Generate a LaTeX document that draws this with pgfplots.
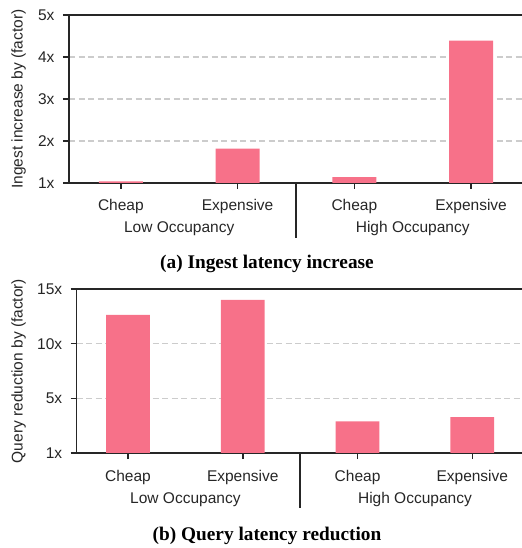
\documentclass[border=0pt]{standalone}
\usepackage{fontspec}
\setmainfont{Liberation Sans}
\newfontfamily\capfont{Liberation Serif}
\usepackage{pgfplots}
\pgfplotsset{compat=1.18}
\definecolor{barc}{HTML}{F77189}
\definecolor{axc}{HTML}{262626}
\definecolor{gridc}{HTML}{CCCCCC}
\newcommand{\lblfont}{\fontsize{15.5bp}{18bp}\selectfont}
\newcommand{\capsize}{\capfont\bfseries\fontsize{19.3bp}{22bp}\selectfont}
\pgfplotsset{mystyle/.style={
  scale only axis,
  axis lines=left,
  axis line style={-, axc, line width=1.5bp},
  every tick/.style={axc, line width=1.5bp},
  major tick length=6bp,
  tick align=outside,
  ymajorgrids,
  major grid style={gridc, line width=1.6bp, dash pattern=on 6bp off 3.5bp},
  xtick={0,1,2,3},
  xticklabels={Cheap,Expensive,Cheap,Expensive},
  font=\lblfont,
  tick label style={font=\lblfont, text=axc},
  xticklabel style={anchor=base, yshift=-22bp},
  yticklabel style={xshift=-5bp},
  /pgf/number format/assume math mode=true,
  ybar,
}}
\begin{document}
\begin{tikzpicture}
\useasboundingbox (0,0) rectangle (522bp,548bp);
% top axis
\begin{axis}[mystyle, name=top,
  at={(69bp,365bp)}, anchor=south west,
  width=453bp, height=168bp,
  xmin=-0.444, xmax=3.436, ymin=1, ymax=5,
  ytick={1,2,3,4,5}, yticklabels={1x,2x,3x,4x,5x},
  bar width=44bp,
  every axis y label/.style={at={([xshift=-50.5bp]rel axis cs:0,0.5)}, rotate=90, anchor=center, font=\lblfont, text=axc},
  ylabel={Ingest increase by (factor)},
]
\addplot[fill=barc, draw=none] coordinates {(0,1.04) (1,1.82) (2,1.14) (3,4.39)};
\coordinate (sepA) at (axis cs:1.5,1);
\coordinate (lowA) at (axis cs:0.5,1);
\coordinate (highA) at (axis cs:2.5,1);
\end{axis}
\draw[axc, line width=1.5bp] (top.north west) -- (top.north east);
\draw[axc, line width=1.5bp] (sepA) -- ++(0,-55bp);
\node[anchor=base, font=\lblfont, text=axc, inner sep=0pt] at ([yshift=-50bp]lowA) {Low Occupancy};
\node[anchor=base, font=\lblfont, text=axc, inner sep=0pt] at ([yshift=-50bp]highA) {High Occupancy};
\node[anchor=base, font=\capsize, inner sep=0pt] at (267bp,279.3bp) {(a) Ingest latency increase};
% bottom axis
\begin{axis}[mystyle, name=bot,
  at={(76.7bp,95bp)}, anchor=south west,
  width=445.3bp, height=164bp,
  xmin=-0.447, xmax=3.433, ymin=0, ymax=15,
  ytick={0,5,10,15}, yticklabels={1x,5x,10x,15x},
  bar width=43.7bp,
  every axis y label/.style={at={([xshift=-58.2bp]rel axis cs:0,0.5)}, rotate=90, anchor=center, font=\lblfont, text=axc},
  ylabel={Query reduction by (factor)},
]
\addplot[fill=barc, draw=none] coordinates {(0,12.63) (1,14.0) (2,2.9) (3,3.27)};
\coordinate (sepB) at (axis cs:1.5,0);
\coordinate (lowB) at (axis cs:0.5,0);
\coordinate (highB) at (axis cs:2.5,0);
\end{axis}
\draw[axc, line width=1.5bp] (bot.north west) -- (bot.north east);
\draw[axc, line width=1.5bp] (sepB) -- ++(0,-55bp);
\node[anchor=base, font=\lblfont, text=axc, inner sep=0pt] at ([yshift=-51bp]lowB) {Low Occupancy};
\node[anchor=base, font=\lblfont, text=axc, inner sep=0pt] at ([yshift=-51bp]highB) {High Occupancy};
\node[anchor=base, font=\capsize, inner sep=0pt] at (267bp,8bp) {(b) Query latency reduction};
\end{tikzpicture}
\end{document}
